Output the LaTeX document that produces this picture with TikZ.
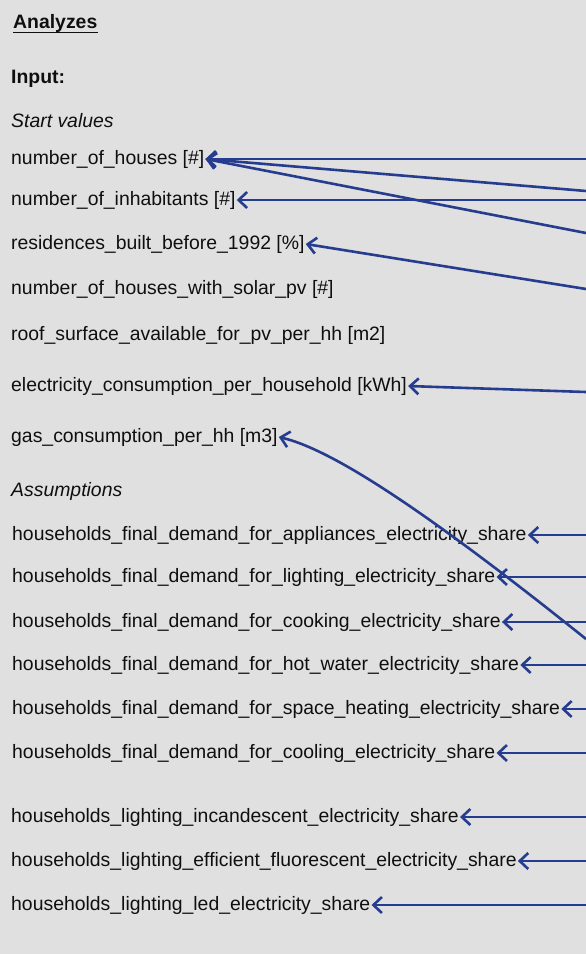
\documentclass[tikz,border=0pt]{standalone}
\usepackage{fontspec}
\setmainfont{Liberation Sans}
\usetikzlibrary{arrows.meta}
\definecolor{bg}{RGB}{224,224,224}
\definecolor{arrblue}{RGB}{38,60,142}
\definecolor{txt}{RGB}{15,15,15}
\begin{document}
\begin{tikzpicture}[x=1pt,y=-1pt,
  lbl/.style={anchor=west,inner xsep=1pt,inner ysep=0pt,text=txt,font=\fontsize{19.4}{21}\selectfont},
  hdr/.style={lbl,font=\fontsize{19.4}{21}\selectfont\bfseries},
  sub/.style={lbl,font=\fontsize{19.4}{21}\selectfont\itshape},
  arr/.style={draw=arrblue,line width=2.6pt,-{Straight Barb[length=8.5pt,width=16pt,line width=2.6pt]}}]
\useasboundingbox[fill=bg] (0,0) rectangle (586,954);
\node[hdr] (ana) at (12,23) {Analyzes};
\draw[txt,line width=1.5pt] ([yshift=-4.5pt,xshift=1pt]ana.base west) -- ([yshift=-4.5pt,xshift=-1pt]ana.base east);
\node[hdr] (inp) at (10,79) {Input:};
\node[sub] (sv) at (10,121) {Start values};
\node[lbl] (nh) at (10,159) {number\_of\_houses [\#]};
\node[lbl] (ni) at (10,200) {number\_of\_inhabitants [\#]};
\node[lbl] (rb) at (10,244) {residences\_built\_before\_1992 [\%]};
\node[lbl] (ns) at (10,289) {number\_of\_houses\_with\_solar\_pv [\#]};
\node[lbl] (rs) at (10,335) {roof\_surface\_available\_for\_pv\_per\_hh [m2]};
\node[lbl] (ec) at (10,386) {electricity\_consumption\_per\_household [kWh]};
\node[lbl] (gc) at (10,437) {gas\_consumption\_per\_hh [m3]};
\node[sub] (as) at (10,491) {Assumptions};
\node[lbl] (a1) at (11,535) {households\_final\_demand\_for\_appliances\_electricity\_share};
\node[lbl] (a2) at (11,577) {households\_final\_demand\_for\_lighting\_electricity\_share};
\node[lbl] (a3) at (11,622) {households\_final\_demand\_for\_cooking\_electricity\_share};
\node[lbl] (a4) at (11,665) {households\_final\_demand\_for\_hot\_water\_electricity\_share};
\node[lbl] (a5) at (11,709) {households\_final\_demand\_for\_space\_heating\_electricity\_share};
\node[lbl] (a6) at (11,753) {households\_final\_demand\_for\_cooling\_electricity\_share};
\node[lbl] (l1) at (10,817) {households\_lighting\_incandescent\_electricity\_share};
\node[lbl] (l2) at (10,861) {households\_lighting\_efficient\_fluorescent\_electricity\_share};
\node[lbl] (l3) at (10,905) {households\_lighting\_led\_electricity\_share};
% right-edge sources
\coordinate (s2) at (586,191);
\coordinate (s3) at (586,233);
\coordinate (s5) at (586,289);
\coordinate (s6) at (586,392);
\coordinate (s7) at (586,639);
\draw[arr] (nh.east -| 586,0) -- (nh.east);
\draw[arr] (s2) -- (nh.east);
\draw[arr] (s3) -- (nh.east);
\draw[arr] (ni.east -| 586,0) -- (ni.east);
\draw[arr] (s5) -- (rb.east);
\draw[arr] (s6) -- (ec.east);
\draw[arr] (s7) .. controls (420,506) and (330,449) .. (gc.east);
\foreach \n in {a1,a2,a3,a4,a5,a6,l1,l2,l3}{
  \draw[arr] (\n.east -| 586,0) -- (\n.east);
}
\end{tikzpicture}
\end{document}
